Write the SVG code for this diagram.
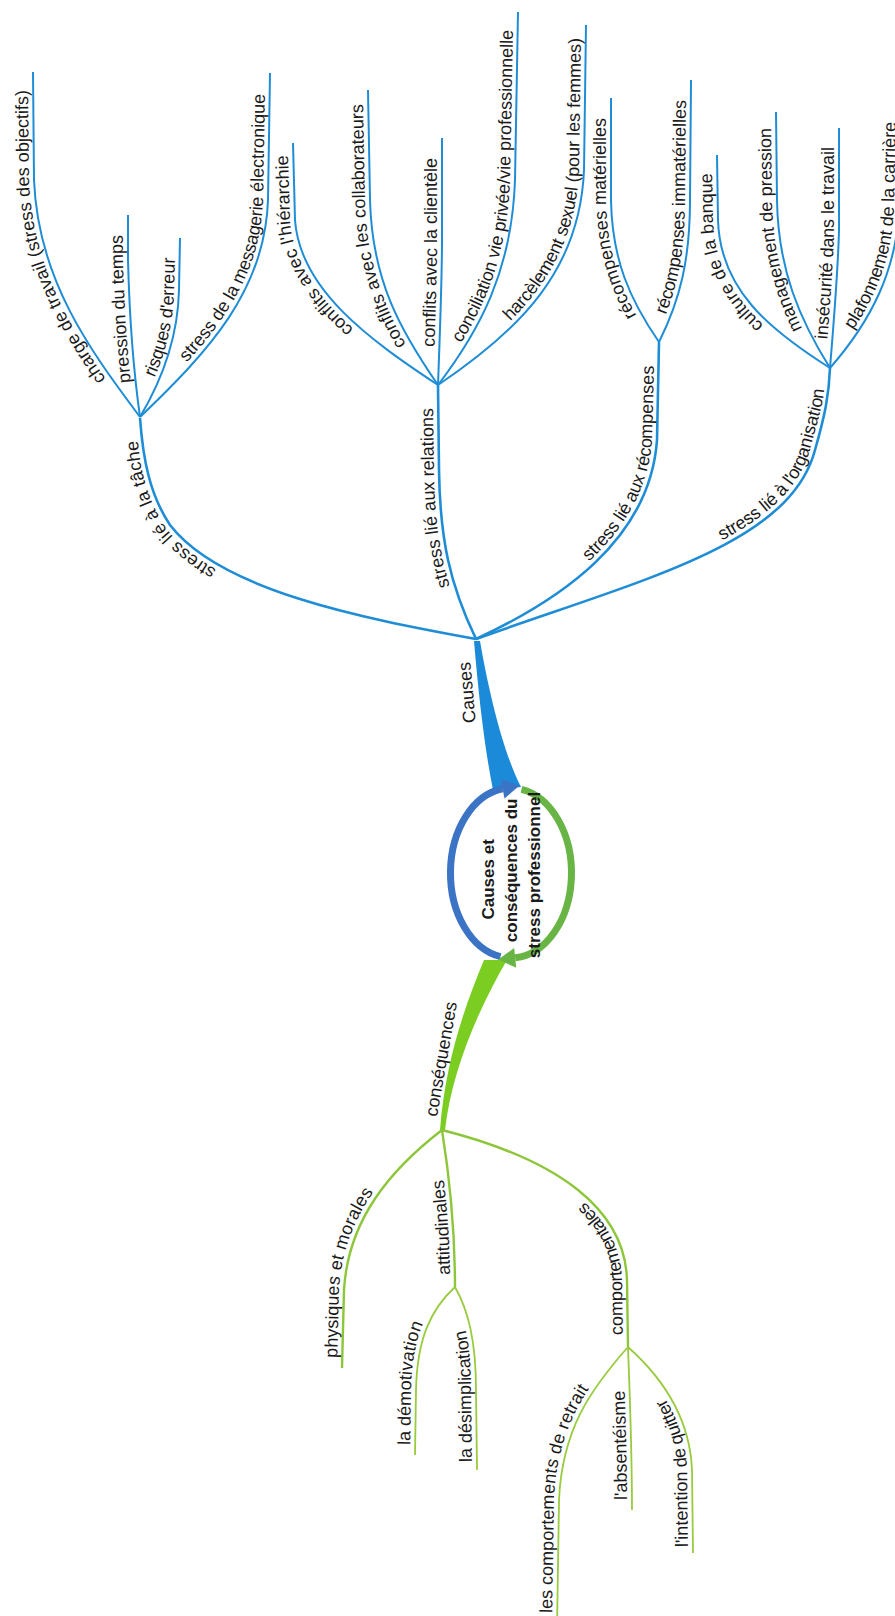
<svg xmlns="http://www.w3.org/2000/svg" width="895" height="1616" viewBox="0 0 895 1616">
<style>
  .lbl { font-family: "Liberation Sans", Arial, sans-serif; font-size: 18px; fill: #1a1a1a; }
  .top { text-anchor: end; }
  .bot { text-anchor: start; }
  .ctr { font-family: "Liberation Sans", Arial, sans-serif; font-size: 17px; font-weight: bold; fill: #1a1a1a; text-anchor: middle; }
  .bl1 { fill: none; stroke: #1f8dd6; stroke-width: 2.6; }
  .bl2 { fill: none; stroke: #1f8dd6; stroke-width: 2; }
  .gl1 { fill: none; stroke: #8dc63a; stroke-width: 2.4; }
  .gl2 { fill: none; stroke: #98cb3e; stroke-width: 1.8; }
</style>
<defs>
  <!-- label baselines: causes side runs root -> leaf, consequences side runs leaf -> root -->
  <path id="tp-tache" d="M 476 639 C 360 618, 220 590, 170 525 C 152 497, 145 470, 143 440"/>
  <path id="tp-relations" d="M 476 639 C 450 585, 440 540, 439 470 L 438 408"/>
  <path id="tp-recompenses" d="M 476 639 C 560 600, 650 540, 657 440 L 659 366"/>
  <path id="tp-organisation" d="M 476 639 C 640 580, 790 545, 815 450 C 823 420, 828 405, 829 390"/>
  <path id="tp-a1" d="M 140 417 C 90 350, 38 280, 34 180 L 33 90"/>
  <path id="tp-a2" d="M 140 417 C 132 360, 129 300, 128 260 L 128 235"/>
  <path id="tp-a3" d="M 140 417 C 165 375, 178 335, 179 290 L 180 258"/>
  <path id="tp-a4" d="M 140 417 C 210 350, 265 290, 268 200 L 270 94"/>
  <path id="tp-b1" d="M 438 385 C 370 340, 300 290, 295 220 L 293 155"/>
  <path id="tp-b2" d="M 438 385 C 400 330, 372 280, 370 200 L 368 104"/>
  <path id="tp-b3" d="M 438 385 C 440 330, 442 280, 442 240 L 442 158"/>
  <path id="tp-b4" d="M 438 385 C 480 330, 512 270, 515 180 L 518 30"/>
  <path id="tp-b5" d="M 438 385 C 520 330, 580 270, 584 170 L 586 38"/>
  <path id="tp-c1" d="M 659 342 C 630 300, 612 260, 611 200 L 611 118"/>
  <path id="tp-c2" d="M 659 342 C 680 300, 690 260, 690 200 L 691 100"/>
  <path id="tp-d1" d="M 830 368 C 770 330, 720 290, 718 220 L 717 173"/>
  <path id="tp-d2" d="M 830 368 C 800 320, 778 270, 777 200 L 776 128"/>
  <path id="tp-d3" d="M 830 368 C 834 320, 838 270, 839 230 L 839 147"/>
  <path id="tp-d4" d="M 830 368 C 872 320, 896 270, 899 210 L 901 122"/>
  <path id="tp-g1" d="M 342 1368 L 344 1290 C 348 1220, 390 1170, 442 1130"/>
  <path id="tp-g2" d="M 455 1287 C 455 1230, 450 1180, 442 1130"/>
  <path id="tp-g3" d="M 628 1347 L 627 1280 C 625 1210, 560 1160, 442 1130"/>
  <path id="tp-g2a" d="M 415 1455 L 416 1390 C 417 1340, 430 1310, 455 1287"/>
  <path id="tp-g2b" d="M 477 1470 L 476 1390 C 476 1340, 468 1310, 455 1287"/>
  <path id="tp-g3a" d="M 557 1622 L 559 1500 C 562 1430, 590 1390, 628 1347"/>
  <path id="tp-g3b" d="M 632 1510 C 632 1450, 630 1400, 628 1347"/>
  <path id="tp-g3c" d="M 693 1553 L 692 1470 C 690 1420, 665 1380, 628 1347"/>
</defs>

<rect width="895" height="1616" fill="#ffffff"/>

<g id="connectors">
  <!-- thick trunks to the central topic -->
  <path d="M 474 641 C 479 700, 485 750, 493 790 L 521 787 C 507 760, 492 710, 480 641 Z" fill="#1b8ad8"/>
  <path d="M 484 960 C 463 1010, 445 1065, 440 1130 L 445 1130 C 452 1070, 478 1010, 507 960 Z" fill="#7ccd22"/>
  <!-- causes: main branches -->
  <path class="bl1" d="M 476 639 C 360 618, 220 590, 170 525 C 150 495, 143 460, 140 418"/>
  <path class="bl1" d="M 476 639 C 450 585, 440 540, 439 470 L 438 385"/>
  <path class="bl1" d="M 476 639 C 560 600, 650 540, 657 440 L 659 342"/>
  <path class="bl1" d="M 476 639 C 640 580, 790 545, 815 450 C 825 415, 829 395, 830 368"/>
  <!-- causes: leaves -->
  <path class="bl2" d="M 140 417 C 90 350, 38 280, 34 180 L 33 72"/>
  <path class="bl2" d="M 140 417 C 132 360, 129 300, 128 260 L 128 215"/>
  <path class="bl2" d="M 140 417 C 165 375, 178 335, 179 290 L 180 238"/>
  <path class="bl2" d="M 140 417 C 210 350, 265 290, 268 200 L 270 73"/>
  <path class="bl2" d="M 438 385 C 370 340, 300 290, 295 220 L 293 143"/>
  <path class="bl2" d="M 438 385 C 400 330, 372 280, 370 200 L 368 90"/>
  <path class="bl2" d="M 438 385 C 440 330, 442 280, 442 240 L 442 138"/>
  <path class="bl2" d="M 438 385 C 480 330, 512 270, 515 180 L 518 12"/>
  <path class="bl2" d="M 438 385 C 520 330, 580 270, 584 170 L 586 25"/>
  <path class="bl2" d="M 659 342 C 630 300, 612 260, 611 200 L 611 98"/>
  <path class="bl2" d="M 659 342 C 680 300, 690 260, 690 200 L 691 80"/>
  <path class="bl2" d="M 830 368 C 770 330, 720 290, 718 220 L 717 155"/>
  <path class="bl2" d="M 830 368 C 800 320, 778 270, 777 200 L 776 112"/>
  <path class="bl2" d="M 830 368 C 834 320, 838 270, 839 230 L 839 128"/>
  <path class="bl2" d="M 830 368 C 872 320, 896 270, 899 210 L 901 105"/>
  <!-- consequences: main branches -->
  <path class="gl1" d="M 442 1130 C 390 1170, 348 1220, 344 1290 L 342 1368"/>
  <path class="gl1" d="M 442 1130 C 450 1180, 455 1230, 455 1287"/>
  <path class="gl1" d="M 442 1130 C 560 1160, 625 1210, 627 1280 L 628 1347"/>
  <!-- consequences: leaves -->
  <path class="gl2" d="M 455 1287 C 430 1310, 417 1340, 416 1390 L 415 1455"/>
  <path class="gl2" d="M 455 1287 C 468 1310, 476 1340, 476 1390 L 477 1470"/>
  <path class="gl2" d="M 628 1347 C 590 1390, 562 1430, 559 1500 L 557 1630"/>
  <path class="gl2" d="M 628 1347 C 630 1400, 632 1450, 632 1510"/>
  <path class="gl2" d="M 628 1347 C 665 1380, 690 1420, 692 1470 L 693 1553"/>
</g>

<g id="node-centre">
  <path d="M 500.5 956.7 A 60.5 85 0 0 1 502.6 788.8" fill="none" stroke="#3b74c5" stroke-width="7"/>
  <polygon points="519.5,785.5 504.5,798.6 500.7,779" fill="#3b74c5"/>
  <path d="M 521.5 789.3 A 60.5 85 0 0 1 515.2 957.8" fill="none" stroke="#68b545" stroke-width="7"/>
  <polygon points="498.2,959.5 516.2,967.8 514.2,947.9" fill="#68b545"/>
  <text class="ctr" transform="translate(511,873) rotate(-90)">
    <tspan x="-4" y="-17">Causes et</tspan>
    <tspan x="5" y="6">conséquences du</tspan>
    <tspan x="-2" y="29">stress professionnel</tspan>
  </text>
</g>

<g id="node-causes">
  <text class="lbl" text-anchor="middle" transform="translate(473,692) rotate(-95)">Causes</text>
</g>
<g id="node-consequences">
  <text class="lbl" text-anchor="middle" transform="translate(447,1060) rotate(-80)">conséquences</text>
</g>

<g id="node-tache"><text class="lbl top" dy="-5"><textPath href="#tp-tache" startOffset="100%">stress lié à la tâche</textPath></text></g>
<g id="node-relations"><text class="lbl top" dy="-5"><textPath href="#tp-relations" startOffset="100%">stress lié aux relations</textPath></text></g>
<g id="node-recompenses"><text class="lbl top" dy="-5"><textPath href="#tp-recompenses" startOffset="100%">stress lié aux récompenses</textPath></text></g>
<g id="node-organisation"><text class="lbl top" dy="-5"><textPath href="#tp-organisation" startOffset="100%">stress lié à l'organisation</textPath></text></g>

<g id="node-charge"><text class="lbl top" dy="-5"><textPath href="#tp-a1" startOffset="100%">charge de travail (stress des objectifs)</textPath></text></g>
<g id="node-pression-temps"><text class="lbl top" dy="-5"><textPath href="#tp-a2" startOffset="100%">pression du temps</textPath></text></g>
<g id="node-risques"><text class="lbl top" dy="-5"><textPath href="#tp-a3" startOffset="100%">risques d'erreur</textPath></text></g>
<g id="node-messagerie"><text class="lbl top" dy="-5"><textPath href="#tp-a4" startOffset="100%">stress de la messagerie électronique</textPath></text></g>

<g id="node-hierarchie"><text class="lbl top" dy="-5"><textPath href="#tp-b1" startOffset="100%">conflits avec l'hiérarchie</textPath></text></g>
<g id="node-collaborateurs"><text class="lbl top" dy="-5"><textPath href="#tp-b2" startOffset="100%">conflits avec les collaborateurs</textPath></text></g>
<g id="node-clientele"><text class="lbl top" dy="-5"><textPath href="#tp-b3" startOffset="100%">conflits avec la clientèle</textPath></text></g>
<g id="node-conciliation"><text class="lbl top" dy="-5"><textPath href="#tp-b4" startOffset="100%">conciliation vie privée/vie professionnelle</textPath></text></g>
<g id="node-harcelement"><text class="lbl top" dy="-5"><textPath href="#tp-b5" startOffset="100%">harcèlement sexuel (pour les femmes)</textPath></text></g>

<g id="node-materielles"><text class="lbl top" dy="-5"><textPath href="#tp-c1" startOffset="100%">récompenses matérielles</textPath></text></g>
<g id="node-immaterielles"><text class="lbl top" dy="-5"><textPath href="#tp-c2" startOffset="100%">récompenses immatérielles</textPath></text></g>

<g id="node-culture"><text class="lbl top" dy="-5"><textPath href="#tp-d1" startOffset="100%">culture de la banque</textPath></text></g>
<g id="node-management"><text class="lbl top" dy="-5"><textPath href="#tp-d2" startOffset="100%">management de pression</textPath></text></g>
<g id="node-insecurite"><text class="lbl top" dy="-5"><textPath href="#tp-d3" startOffset="100%">insécurité dans le travail</textPath></text></g>
<g id="node-plafonnement"><text class="lbl top" dy="-5"><textPath href="#tp-d4" startOffset="100%">plafonnement de la carrière</textPath></text></g>

<g id="node-physiques"><text class="lbl bot" dy="-5"><textPath href="#tp-g1" startOffset="10">physiques et morales</textPath></text></g>
<g id="node-attitudinales"><text class="lbl bot" dy="-5"><textPath href="#tp-g2" startOffset="12">attitudinales</textPath></text></g>
<g id="node-comportementales"><text class="lbl bot" dy="-5"><textPath href="#tp-g3" startOffset="12">comportementales</textPath></text></g>
<g id="node-demotivation"><text class="lbl bot" dy="-5"><textPath href="#tp-g2a" startOffset="10">la démotivation</textPath></text></g>
<g id="node-desimplication"><text class="lbl bot" dy="-5"><textPath href="#tp-g2b" startOffset="8">la désimplication</textPath></text></g>
<g id="node-retrait"><text class="lbl bot" dy="-5"><textPath href="#tp-g3a" startOffset="9">les comportements de retrait</textPath></text></g>
<g id="node-absenteisme"><text class="lbl bot" dy="-5"><textPath href="#tp-g3b" startOffset="10">l'absentéisme</textPath></text></g>
<g id="node-quitter"><text class="lbl bot" dy="-5"><textPath href="#tp-g3c" startOffset="6">l'intention de quitter</textPath></text></g>
</svg>
